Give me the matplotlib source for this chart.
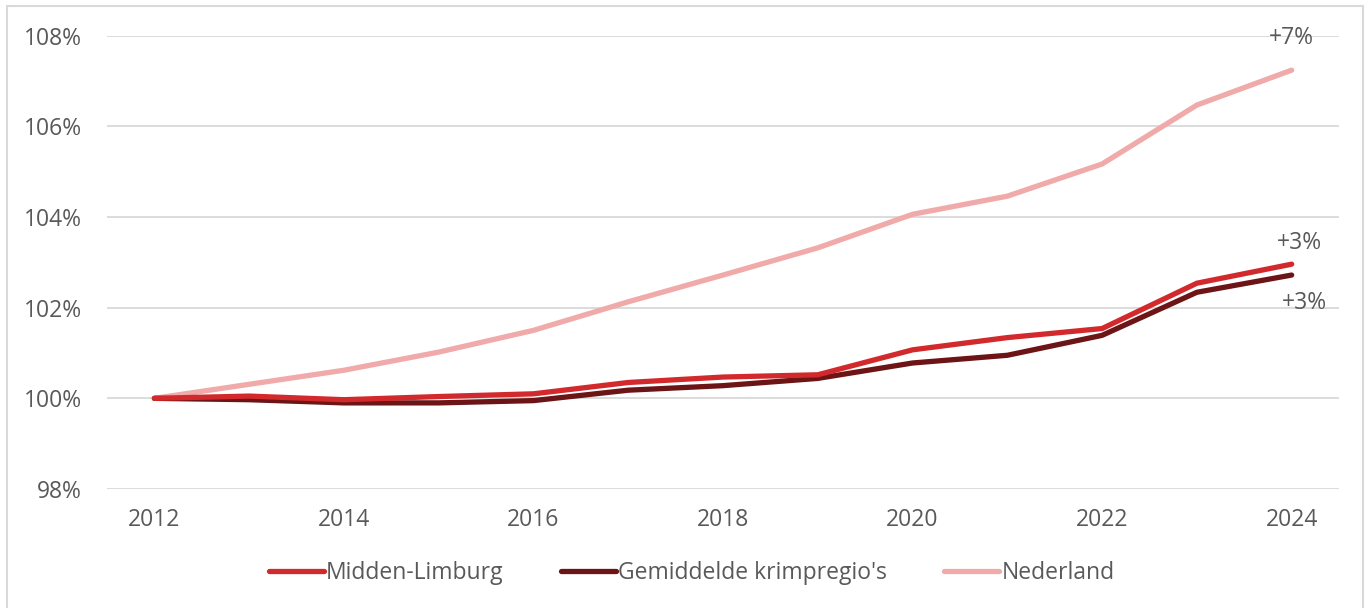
import matplotlib
matplotlib.use("Agg")
import matplotlib.pyplot as plt
from matplotlib.patches import Rectangle

years = list(range(2012, 2025))
midden_limburg = [100.0, 100.05, 99.97, 100.04, 100.1, 100.35, 100.47, 100.52, 101.07, 101.34, 101.54, 102.54, 102.96]
krimpregios = [100.0, 99.97, 99.9, 99.9, 99.95, 100.18, 100.28, 100.44, 100.78, 100.95, 101.39, 102.34, 102.72]
nederland = [100.0, 100.31, 100.62, 101.02, 101.5, 102.13, 102.72, 103.32, 104.06, 104.46, 105.17, 106.47, 107.24]

series_names = ["Midden-Limburg", "Gemiddelde krimpregio's", "Nederland"]
colors = ["#D22A2C", "#6C1416", "#F0AAAA"]
y_ticks = [98, 100, 102, 104, 106, 108]
x_ticks = list(range(2012, 2025, 2))

plt.rcParams['font.family'] = ['Open Sans', 'DejaVu Sans']
text_color = "#595959"
fs = 16.5

fig = plt.figure(figsize=(13.7, 6.08), dpi=100)
ax = fig.add_axes([0.0781, 0.1957, 0.8993, 0.7456])

for vals, name, c, z in [(nederland, series_names[2], colors[2], 2),
                         (krimpregios, series_names[1], colors[1], 3),
                         (midden_limburg, series_names[0], colors[0], 4)]:
    ax.plot(years, vals, color=c, lw=3.8, solid_capstyle='round', solid_joinstyle='round', label=name, zorder=z)

ax.set_xlim(2011.5, 2024.5)
ax.set_ylim(98, 108)
ax.set_yticks(y_ticks)
ax.set_yticklabels([f"{t}%" for t in y_ticks])
ax.set_xticks(x_ticks)
ax.set_xticklabels([str(t) for t in x_ticks])
ax.grid(axis='y', color='#D9D9D9', lw=1.3, zorder=0)
ax.set_axisbelow(True)
for s in ax.spines.values():
    s.set_visible(False)
ax.tick_params(axis='both', length=0, labelsize=fs, colors=text_color)
ax.tick_params(axis='y', pad=18)
ax.tick_params(axis='x', pad=14)

ax.text(2024.0, 107.95, "+7%", ha='center', va='center', fontsize=fs, color=text_color)
ax.text(2024.08, 103.42, "+3%", ha='center', va='center', fontsize=fs, color=text_color)
ax.text(2024.13, 102.1, "+3%", ha='center', va='center', fontsize=fs, color=text_color)

handles, labels = ax.get_legend_handles_labels()
order = [labels.index(n) for n in series_names]
leg = fig.legend([handles[i] for i in order], [labels[i] for i in order],
                 loc='center', bbox_to_anchor=(0.505, 0.057), ncol=3, frameon=False,
                 fontsize=fs, handlelength=2.4, handletextpad=0.1, columnspacing=2.5,
                 labelcolor=text_color)

fig.patches.append(Rectangle((0.005, -0.02), 0.99, 1.01, transform=fig.transFigure,
                             fill=False, edgecolor='#D9D9D9', lw=1.5))

fig.savefig("out.png", dpi=100, facecolor='white')
